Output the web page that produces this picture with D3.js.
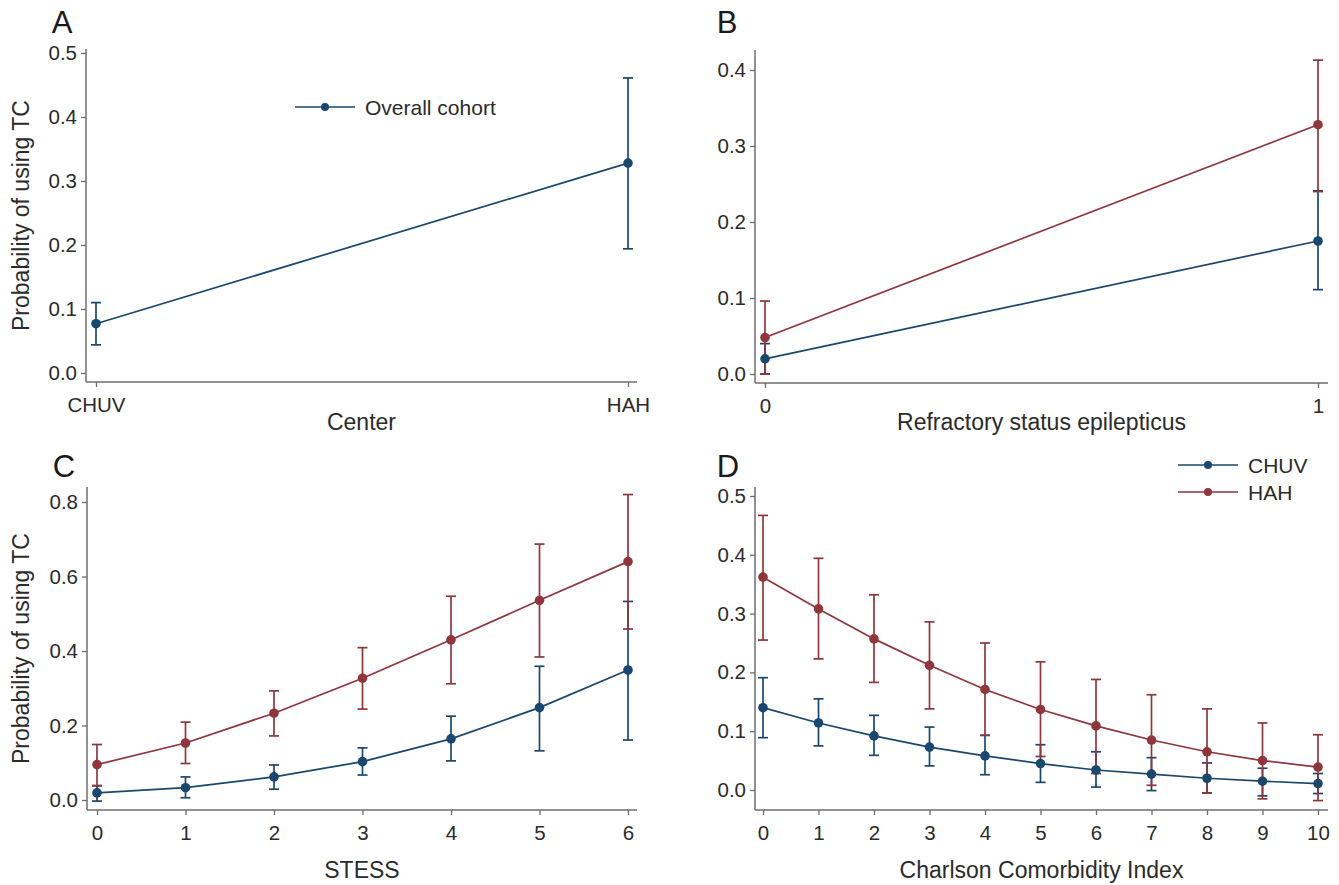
<!DOCTYPE html>
<html>
<head>
<meta charset="utf-8">
<script src="https://cdn.jsdelivr.net/npm/d3@7"></script>
<style>
  html, body { margin: 0; padding: 0; background: #fff; }
  svg { display: block; font-family: "Liberation Sans", Arial, sans-serif; }
</style>
</head>
<body>
<svg id="chart" width="1339" height="885"></svg>
<script>
// ---------------- DATA ----------------
const centerCategories = ["CHUV", "HAH"];
const overallMean = [0.077, 0.328];
const overallLo   = [0.044, 0.194];
const overallHi   = [0.110, 0.461];

const refractoryX = [0, 1];
const refChuvMean = [0.020, 0.175];
const refChuvLo   = [0.000, 0.111];
const refChuvHi   = [0.040, 0.241];
const refHahMean  = [0.048, 0.328];
const refHahLo    = [0.000, 0.240];
const refHahHi    = [0.096, 0.413];

const stessX = [0, 1, 2, 3, 4, 5, 6];
const stessChuvMean = [0.019, 0.033, 0.062, 0.103, 0.164, 0.248, 0.349];
const stessChuvLo   = [-0.003, 0.006, 0.029, 0.067, 0.105, 0.132, 0.161];
const stessChuvHi   = [0.038, 0.062, 0.094, 0.140, 0.225, 0.359, 0.533];
const stessHahMean  = [0.095, 0.153, 0.233, 0.327, 0.430, 0.536, 0.640];
const stessHahLo    = [0.039, 0.098, 0.172, 0.244, 0.312, 0.384, 0.459];
const stessHahHi    = [0.149, 0.209, 0.293, 0.409, 0.547, 0.687, 0.820];

const cciX = [0, 1, 2, 3, 4, 5, 6, 7, 8, 9, 10];
const cciChuvMean = [0.140, 0.114, 0.092, 0.073, 0.058, 0.045, 0.034, 0.027, 0.020, 0.015, 0.011];
const cciChuvLo   = [0.089, 0.075, 0.059, 0.041, 0.026, 0.013, 0.005, -0.001, -0.005, -0.010, -0.006];
const cciChuvHi   = [0.191, 0.155, 0.127, 0.107, 0.093, 0.077, 0.065, 0.055, 0.046, 0.037, 0.028];
const cciHahMean  = [0.362, 0.308, 0.257, 0.212, 0.171, 0.137, 0.109, 0.085, 0.065, 0.050, 0.039];
const cciHahLo    = [0.255, 0.223, 0.183, 0.138, 0.093, 0.057, 0.028, 0.008, -0.005, -0.015, -0.018];
const cciHahHi    = [0.467, 0.394, 0.332, 0.286, 0.250, 0.218, 0.188, 0.162, 0.138, 0.114, 0.094];

const ticksA = [0, 0.1, 0.2, 0.3, 0.4, 0.5];
const ticksB = [0, 0.1, 0.2, 0.3, 0.4];
const ticksC = [0, 0.2, 0.4, 0.6, 0.8];
const ticksD = [0, 0.1, 0.2, 0.3, 0.4, 0.5];

const seriesNames = ["CHUV", "HAH"];
const COLORS = { CHUV: "#1a476f", HAH: "#90353b", overall: "#1a476f" };
// --------------------------------------

const svg = d3.select("#chart");
const AXIS = "#6e6e6e";
const TEXT = "#2b2b2b";

function zip(xs, m, lo, hi) {
  return xs.map((x, i) => ({ x, m: m[i], lo: lo[i], hi: hi[i] }));
}

function drawPanel(p) {
  const g = svg.append("g");
  const x = p.xScale;
  const y = d3.scaleLinear().domain([p.yTicks[0], p.yTicks[p.yTicks.length - 1]])
    .range([p.y0, p.yTop]);

  // y axis
  const ya = g.append("g").attr("transform", `translate(${p.axisX},0)`)
    .call(d3.axisLeft(y).tickValues(p.yTicks).tickFormat(d3.format(".1f")).tickSize(5).tickSizeOuter(0));
  ya.select(".domain").remove();
  ya.selectAll("line").attr("stroke", AXIS).attr("stroke-width", 1.3);
  ya.selectAll("text").attr("font-size", 20.5).attr("fill", TEXT).attr("x", -9)
    .attr("font-family", "Liberation Sans, Arial, sans-serif");
  g.append("line").attr("x1", p.axisX).attr("x2", p.axisX)
    .attr("y1", p.axisTopPx).attr("y2", p.axisBottom)
    .attr("stroke", AXIS).attr("stroke-width", 1.5);

  // x axis
  const xAxis = d3.axisBottom(x).tickValues(p.xTickValues).tickSize(5).tickSizeOuter(0);
  if (p.xFormat) xAxis.tickFormat(p.xFormat);
  const xa = g.append("g").attr("transform", `translate(0,${p.axisBottom})`).call(xAxis);
  xa.select(".domain").remove();
  xa.selectAll("line").attr("stroke", AXIS).attr("stroke-width", 1.3);
  xa.selectAll("text").attr("font-size", 20.5).attr("fill", TEXT).attr("dy", 0).attr("y", 30)
    .attr("font-family", "Liberation Sans, Arial, sans-serif");
  g.append("line").attr("x1", p.axisX).attr("x2", p.axisRight)
    .attr("y1", p.axisBottom).attr("y2", p.axisBottom)
    .attr("stroke", AXIS).attr("stroke-width", 1.5);

  // axis titles
  g.append("text").attr("x", (p.axisX + p.axisRight) / 2).attr("y", p.xTitleY)
    .attr("text-anchor", "middle").attr("font-size", 23).attr("fill", TEXT).text(p.xTitle);
  if (p.yTitle) {
    g.append("text")
      .attr("transform", `translate(${p.yTitleX},${(p.axisTopPx + p.axisBottom) / 2}) rotate(-90)`)
      .attr("text-anchor", "middle").attr("font-size", 23).attr("fill", TEXT).text(p.yTitle);
  }
  // panel letter
  g.append("text").attr("x", p.letterX).attr("y", p.letterY).attr("text-anchor", "middle")
    .attr("font-size", 31).attr("fill", "#1a1a1a").text(p.letter);

  // error bars
  p.series.forEach(s => {
    const eg = g.append("g").attr("stroke", s.color).attr("stroke-width", 1.7).attr("fill", "none");
    s.data.forEach(d => {
      const cx = x(d.x);
      eg.append("line").attr("x1", cx).attr("x2", cx).attr("y1", y(d.lo)).attr("y2", y(d.hi));
      eg.append("line").attr("x1", cx - 5).attr("x2", cx + 5).attr("y1", y(d.lo)).attr("y2", y(d.lo));
      eg.append("line").attr("x1", cx - 5).attr("x2", cx + 5).attr("y1", y(d.hi)).attr("y2", y(d.hi));
    });
  });
  // lines and markers
  p.series.forEach(s => {
    const line = d3.line().x(d => x(d.x)).y(d => y(d.m));
    g.append("path").datum(s.data).attr("d", line).attr("fill", "none")
      .attr("stroke", s.color).attr("stroke-width", 1.7);
    g.selectAll(null).data(s.data).enter().append("circle")
      .attr("cx", d => x(d.x)).attr("cy", d => y(d.m)).attr("r", 4.8).attr("fill", s.color);
  });

  // legend
  if (p.legend) {
    p.legend.items.forEach((it, i) => {
      const ly = p.legend.y + i * p.legend.dy;
      g.append("line").attr("x1", p.legend.x).attr("x2", p.legend.x + 60)
        .attr("y1", ly).attr("y2", ly).attr("stroke", it.color).attr("stroke-width", 1.7);
      g.append("circle").attr("cx", p.legend.x + 30).attr("cy", ly).attr("r", 4).attr("fill", it.color);
      g.append("text").attr("x", p.legend.x + 70).attr("y", ly).attr("dy", "0.36em")
        .attr("font-size", 21).attr("fill", TEXT).text(it.label);
    });
  }
}

const YTITLE = "Probability of using TC";
const intFmt = d3.format("d");

// Panel A
drawPanel({
  letter: "A", letterX: 62, letterY: 33,
  xScale: d3.scalePoint().domain(centerCategories).range([96, 628]),
  xTickValues: centerCategories,
  yTicks: ticksA, y0: 373, yTop: 53,
  axisX: 86, axisRight: 637, axisTopPx: 49, axisBottom: 382,
  xTitle: "Center", xTitleY: 430, yTitle: YTITLE, yTitleX: 29,
  series: [{ color: COLORS.overall, data: zip(centerCategories, overallMean, overallLo, overallHi) }],
  legend: { x: 295, y: 107, dy: 0, items: [{ label: "Overall cohort", color: COLORS.overall }] }
});

// Panel B
drawPanel({
  letter: "B", letterX: 727, letterY: 33,
  xScale: d3.scaleLinear().domain([0, 1]).range([765, 1318]),
  xTickValues: refractoryX, xFormat: intFmt,
  yTicks: ticksB, y0: 374, yTop: 70,
  axisX: 755, axisRight: 1328, axisTopPx: 50, axisBottom: 383,
  xTitle: "Refractory status epilepticus", xTitleY: 430, yTitle: null,
  series: [
    { color: COLORS.CHUV, data: zip(refractoryX, refChuvMean, refChuvLo, refChuvHi) },
    { color: COLORS.HAH, data: zip(refractoryX, refHahMean, refHahLo, refHahHi) }
  ]
});

// Panel C
drawPanel({
  letter: "C", letterX: 64, letterY: 477,
  xScale: d3.scaleLinear().domain([0, 6]).range([97, 628]),
  xTickValues: stessX, xFormat: intFmt,
  yTicks: ticksC, y0: 800, yTop: 502,
  axisX: 87, axisRight: 637, axisTopPx: 487, axisBottom: 810,
  xTitle: "STESS", xTitleY: 878, yTitle: YTITLE, yTitleX: 29,
  series: [
    { color: COLORS.CHUV, data: zip(stessX, stessChuvMean, stessChuvLo, stessChuvHi) },
    { color: COLORS.HAH, data: zip(stessX, stessHahMean, stessHahLo, stessHahHi) }
  ]
});

// Panel D
drawPanel({
  letter: "D", letterX: 728, letterY: 477,
  xScale: d3.scaleLinear().domain([0, 10]).range([763, 1318]),
  xTickValues: cciX, xFormat: intFmt,
  yTicks: ticksD, y0: 790, yTop: 496,
  axisX: 755, axisRight: 1328, axisTopPx: 487, axisBottom: 810,
  xTitle: "Charlson Comorbidity Index", xTitleY: 878, yTitle: null,
  series: [
    { color: COLORS.CHUV, data: zip(cciX, cciChuvMean, cciChuvLo, cciChuvHi) },
    { color: COLORS.HAH, data: zip(cciX, cciHahMean, cciHahLo, cciHahHi) }
  ],
  legend: { x: 1178, y: 465, dy: 27, items: seriesNames.map(n => ({ label: n, color: COLORS[n] })) }
});
</script>
</body>
</html>
